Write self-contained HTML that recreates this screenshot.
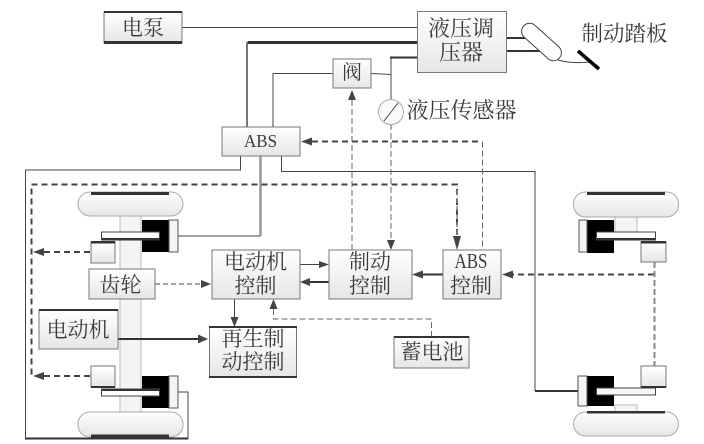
<!DOCTYPE html>
<html><head><meta charset="utf-8"><style>
html,body{margin:0;padding:0;background:#fff;width:704px;height:444px;overflow:hidden}
svg{display:block;filter:blur(0.35px)}
text{font-family:"Liberation Serif","Noto Serif CJK SC",serif;fill:#3a3a3a;text-anchor:middle}
.b{fill:url(#g);stroke:#777;stroke-width:1}
.s{fill:none;stroke:#444;stroke-width:1}
.t{fill:none;stroke:#333;stroke-width:2}
.d{fill:none;stroke:#444;stroke-width:2;stroke-dasharray:6 4}
.h{fill:none;stroke:#666;stroke-width:1;stroke-dasharray:6 3}
.g{fill:none;stroke:#888;stroke-width:1.5;stroke-dasharray:5 3}
.a{fill:#444;stroke:none}
.w{fill:url(#g);stroke:#aaa;stroke-width:1}
</style></head><body>
<svg width="704" height="444" viewBox="0 0 704 444" xmlns="http://www.w3.org/2000/svg">
<defs><linearGradient id="g" x1="0" y1="0" x2="0" y2="1"><stop offset="0" stop-color="#fff"/><stop offset="1" stop-color="#e6e6e6"/></linearGradient></defs>

<!-- lines -->
<path class="s" d="M182 27.5H417"/>
<path d="M417 42.5H247.500" fill="none" stroke="#333" stroke-width="3"/>
<path d="M247 42V127" fill="none" stroke="#777" stroke-width="2"/>
<path class="s" d="M333 73.500H273V127"/>
<path class="s" d="M371 73.500L391 74.500"/>
<path class="s" d="M391 100V57.500"/>
<path class="t" d="M390 57.500H417"/>
<path class="s" d="M240.500 156V170H25.500V438.500H188V392H178"/>
<path d="M25 438.500H188" stroke="#333" stroke-width="2" fill="none"/>
<path class="s" d="M281.500 156V171.500H535V391"/>
<path class="t" d="M535 391H578"/>
<path d="M260.500 156V236" fill="none" stroke="#999" stroke-width="2.500"/>
<path class="s" d="M260.500 236H178"/>
<path class="d" d="M457 235V184.500H31.500V376"/>
<path class="g" d="M457 190V236" stroke-width="2"/>
<path class="a" d="M457 250l-4-14h8z"/>
<path class="d" d="M90 252H42M90 376H42"/>
<path class="a" d="M33 252l11-4v8zM33 376l11-4v8z"/>
<path class="h" d="M352 250V100"/><path class="a" d="M352 90l-4 10h8z"/>
<path class="h" d="M391 124V240"/><path class="a" d="M391 250l-4-10h8z"/>
<path class="d" d="M312 141.500H482"/><path class="a" d="M301 141.500l11-4v8z"/>
<path class="h" d="M482.500 141.500V250"/>
<path class="g" d="M155 284H200"/><path class="a" d="M211 284l-10-4v8z"/>
<path class="s" d="M300 264.500H320"/><path class="a" d="M329 264.500l-10-3.500v7z"/>
<path class="t" d="M329 282H310"/><path class="a" d="M300 282l10-4v8z"/>
<path class="t" d="M443 274.500H422"/><path class="a" d="M412 274.500l11-4v8z"/>
<path class="s" d="M234.500 299V318"/><path class="a" d="M234.500 327l-4-10h8z"/>
<path class="h" d="M431.500 337V319H273.500V308" stroke-width="1.300"/><path class="a" d="M273.500 299l-4 10h8z"/>
<path class="d" d="M654 274.500H512"/><path class="a" d="M502 274.500l11-4v8z"/>
<path d="M654.500 262V366" fill="none" stroke="#888" stroke-width="2" stroke-dasharray="6 3"/>
<path class="t" d="M506 38H535M506 51H546"/>

<!-- left wheels -->
<rect x="120" y="216" width="21" height="196" fill="#f4f4f4" stroke="#bbb"/>
<path class="t" d="M118 339H200"/><path class="a" d="M208 339l-10-4.500v9z"/>
<rect x="78" y="192" width="105" height="24" rx="12" class="w"/>
<rect x="78" y="412" width="105" height="25" rx="12" class="w"/>
<rect x="91" y="192" width="78" height="3" fill="#333"/>
<rect x="91" y="434.500" width="78" height="3" fill="#333"/>
<rect x="142" y="220" width="27" height="32" fill="#000"/>
<rect x="169" y="220" width="9" height="32" fill="#f4f4f4" stroke="#555"/>
<rect x="142" y="376" width="27" height="32" fill="#000"/>
<rect x="169" y="376" width="9" height="32" fill="#f4f4f4" stroke="#555"/>
<rect x="101.500" y="232" width="58" height="8" fill="#fff" stroke="#444"/>
<rect x="102" y="238" width="58" height="2.500" fill="#333"/>
<rect x="101.500" y="389" width="58" height="7" fill="#fff" stroke="#444"/>
<rect x="102" y="389" width="58" height="2" fill="#333"/>
<rect x="91" y="242" width="24" height="21" class="b"/>
<rect x="91" y="241" width="24" height="2.500" fill="#333"/>
<rect x="91" y="366" width="24" height="21" class="b"/>
<rect x="91" y="386" width="24" height="2" fill="#333"/>

<!-- right wheels -->
<rect x="615" y="216" width="22" height="17" fill="#f4f4f4" stroke="#bbb"/>
<rect x="615" y="405" width="22" height="8" fill="#f4f4f4" stroke="#bbb"/>
<rect x="573.500" y="192" width="105" height="25" rx="12" class="w"/>
<rect x="573.500" y="412" width="105" height="24" rx="12" class="w"/>
<rect x="587" y="192" width="78" height="3" fill="#333"/>
<rect x="587" y="411" width="78" height="2.500" fill="#333"/>
<rect x="587" y="220" width="27" height="33" fill="#000"/>
<rect x="579" y="220" width="8" height="32" fill="#f4f4f4" stroke="#555"/>
<rect x="587" y="376" width="27" height="30" fill="#000"/>
<rect x="578" y="376" width="9" height="30" fill="#f4f4f4" stroke="#555"/>
<rect x="596.500" y="232" width="59" height="8" fill="#fff" stroke="#444"/>
<rect x="597" y="238" width="58" height="2.500" fill="#333"/>
<rect x="596.500" y="388" width="59" height="7" fill="#f6f6f6" stroke="#444"/>
<rect x="641" y="242" width="25" height="20" class="b"/>
<rect x="641" y="241" width="25" height="2.500" fill="#333"/>
<rect x="641" y="366" width="25" height="21" class="b"/>
<rect x="641" y="386" width="25" height="2" fill="#333"/>

<!-- boxes -->
<rect x="104" y="12" width="78" height="31" class="b"/>
<rect x="104" y="11" width="78" height="2" fill="#333"/><rect x="104" y="41" width="78" height="3" fill="#333"/>
<text x="143" y="35" font-size="21">电泵</text>
<rect x="417.500" y="11.500" width="89" height="61" class="b"/>
<text x="461" y="36" font-size="22">液压调</text>
<text x="461" y="60" font-size="22">压器</text>
<rect x="333" y="59" width="38" height="29" class="b"/>
<text x="352" y="79" font-size="20">阀</text>
<rect x="222" y="127" width="78" height="29" class="b"/>
<text x="260.500" y="147" font-size="18" textLength="33" lengthAdjust="spacingAndGlyphs">ABS</text>
<circle cx="391" cy="112" r="12.500" fill="#fafafa" stroke="#aaa"/>
<path class="s" d="M384 121L398 103"/>
<text x="461.500" y="118" font-size="22">液压传感器</text>
<text x="624.500" y="41" font-size="21.500">制动踏板</text>

<rect x="89" y="269" width="66" height="30" class="b"/>
<text x="120.500" y="292" font-size="21">齿轮</text>
<rect x="39" y="310" width="79" height="39" class="b"/>
<rect x="39" y="309" width="79" height="2" fill="#333"/>
<text x="78" y="337" font-size="21">电动机</text>
<rect x="212" y="250" width="88" height="49" class="b"/>
<text x="255.500" y="269" font-size="21">电动机</text><text x="255.500" y="293" font-size="21">控制</text>
<rect x="329" y="250" width="83" height="49" class="b"/>
<text x="370" y="269" font-size="21">制动</text><text x="370" y="293" font-size="21">控制</text>
<rect x="443" y="250" width="58" height="49" class="b"/>
<text x="471" y="268" font-size="21" textLength="33" lengthAdjust="spacingAndGlyphs">ABS</text><text x="471" y="293" font-size="21">控制</text>
<rect x="209.500" y="327" width="87" height="50" class="b"/>
<rect x="209" y="326" width="88" height="2" fill="#333"/><rect x="209" y="376" width="88" height="2" fill="#333"/>
<text x="253" y="346" font-size="21">再生制</text><text x="253" y="369" font-size="21">动控制</text>
<rect x="394" y="337" width="75" height="31" class="b"/>
<rect x="394" y="336" width="75" height="2" fill="#333"/>
<text x="432" y="359" font-size="21">蓄电池</text>

<!-- pedal -->
<g transform="translate(541.500 42) rotate(42)">
<rect x="-24" y="-8" width="48" height="16" rx="8" fill="#fff" stroke="#444" stroke-width="1"/>
</g>
<path class="s" d="M558 60Q572 64 590 62"/>
<path d="M578 51L599 69" stroke="#000" stroke-width="3.500" fill="none"/>
</svg>
</body></html>
